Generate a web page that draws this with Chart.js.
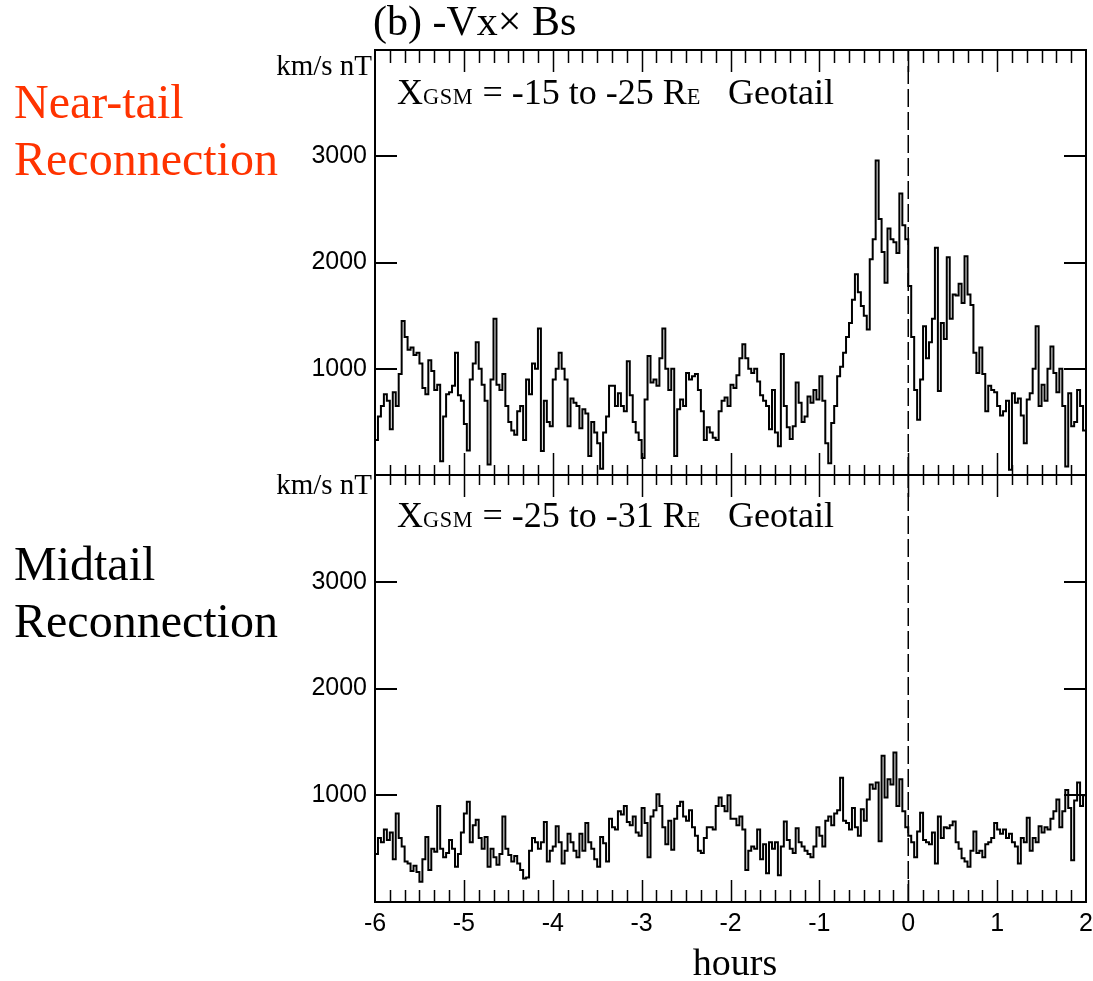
<!DOCTYPE html>
<html><head><meta charset="utf-8">
<script src="https://cdn.jsdelivr.net/npm/chart.js@4"></script>
<style>
html,body{margin:0;padding:0;background:#fff;}
#wrap{position:relative;width:1093px;height:981px;overflow:hidden;background:#fff;}
canvas{position:absolute;left:0;top:0;}
.t{position:absolute;white-space:nowrap;line-height:1;font-family:"Liberation Serif","Times New Roman",serif;color:#000;}
.sc{font-size:0.62em;letter-spacing:0.03em;}
</style></head><body>
<div id="wrap">
<canvas id="c1" width="1093" height="981"></canvas>
<canvas id="c2" width="1093" height="981"></canvas>
<div class="t" id="title">(b) -Vx× Bs</div>
<div class="t" id="u1">km/s nT</div>
<div class="t" id="u2">km/s nT</div>
<div class="t" id="g1">X<span class="sc">GSM</span> = -15 to -25 R<span class="sc">E</span>&nbsp;&nbsp; Geotail</div>
<div class="t" id="g2">X<span class="sc">GSM</span> = -25 to -31 R<span class="sc">E</span>&nbsp;&nbsp; Geotail</div>
<div class="t" id="n1" style="color:#ff3300">Near-tail</div>
<div class="t" id="n2" style="color:#ff3300">Reconnection</div>
<div class="t" id="m1">Midtail</div>
<div class="t" id="m2">Reconnection</div>
<div class="t" id="xl">hours</div>
</div>
<script>
// ---- data (2-minute samples from -6 h to +2 h) ----
const startHour = -6;
const endHour = 2;
const samplesPerHour = 30;
const xTickLabels = ['-6','-5','-4','-3','-2','-1','0','1','2'];
const yTickValues = [1000, 2000, 3000];

const nearTailValues = [
330,550,650,760,700,430,780,650,950,1450,1300,1180,1200,1130,1150,1050,820,760,1080,980,
800,850,130,550,760,780,840,1150,750,700,480,230,900,1050,1250,1000,850,700,100,900,
1470,850,800,950,650,500,420,380,600,650,330,900,760,1050,1000,1380,225,700,500,460,
900,1000,1150,1000,900,460,720,680,650,440,620,580,180,500,400,300,60,400,550,840,
840,650,770,650,600,1070,750,500,400,330,160,710,1120,870,900,840,1100,1380,1000,800,
1000,180,620,710,650,960,900,930,950,800,600,330,450,400,350,330,600,700,730,650,
850,820,940,1100,1230,1100,1000,960,1000,880,750,700,650,430,800,400,270,1140,650,450,
340,460,870,680,500,550,740,680,800,710,930,700,300,110,490,650,930,1020,1150,1300,
1430,1650,1890,1720,1590,1500,1370,2030,2220,2960,2410,2100,1810,2320,2220,2190,2090,2650,2350,2220,
1780,1300,800,520,900,1400,1100,1250,1470,2140,790,1430,1280,2050,1470,1700,1690,1800,1620,2060,
1700,1600,1150,960,1200,950,600,840,800,780,650,560,600,700,50,770,680,720,560,300,
710,770,1000,1400,650,850,700,1000,1210,960,780,1000,650,80,770,460,500,800,650,420,
180];

const midTailValues = [
450,600,560,680,580,650,400,830,600,520,380,360,290,340,280,190,400,610,300,500,
470,900,500,420,460,580,500,330,450,650,830,940,560,720,770,600,500,610,330,500,
420,350,450,800,500,440,380,430,360,300,220,230,480,600,560,500,560,750,380,480,
520,710,560,360,480,640,560,480,420,640,480,740,560,500,400,330,610,550,380,780,
700,680,850,820,900,750,720,800,650,620,880,740,420,800,860,1010,900,700,540,760,
490,780,900,940,800,760,860,700,620,480,460,600,700,700,680,900,980,900,850,1000,
780,780,720,800,680,300,480,520,500,680,400,540,270,560,500,560,250,520,755,580,
500,460,690,560,520,480,450,420,520,700,620,520,760,800,720,830,860,1165,760,740,
680,880,700,620,870,760,960,1100,1060,1120,570,1370,980,1150,1100,1400,900,1150,850,700,
620,560,420,660,835,580,560,540,650,360,800,600,700,690,720,755,560,500,410,380,
330,480,660,460,480,420,540,560,600,740,680,640,680,600,640,560,520,360,600,560,
790,480,600,560,710,650,700,680,780,850,960,700,850,1050,880,390,950,1120,900,1000,
800];

const hours = nearTailValues.map((_, i) => startHour + i / samplesPerHour);

// ---- layout constants ----
const W = 1093, H = 981;
const plotLeft = 375, plotRight = 1086;
const topPanelTop = 50, midLine = 475, bottomPanelBottom = 902;
const tickFont = {family: '"Liberation Sans",Arial,sans-serif', size: 25};

const framePlugin = {
  id: 'frame',
  afterDatasetsDraw(chart, args, opts) {
    const {ctx, chartArea: a, scales} = chart;
    const xs = scales.x, ys = scales.y;
    ctx.save();
    ctx.strokeStyle = '#000';
    ctx.lineWidth = 2;
    ctx.strokeRect(a.left, a.top, a.right - a.left, a.bottom - a.top);
    ctx.lineWidth = 1.5;
    ctx.beginPath();
    const nMinor = (endHour - startHour) * 6;
    for (let m = 1; m < nMinor; m++) {
      const v = startHour + m / 6;
      const px = Math.round(xs.getPixelForValue(v)) + 0.5;
      const major = m % 6 === 0;
      const tl = major ? opts.topMajor : opts.topMinor;
      const bl = major ? opts.botMajor : opts.botMinor;
      ctx.moveTo(px, a.top); ctx.lineTo(px, a.top + tl);
      ctx.moveTo(px, a.bottom); ctx.lineTo(px, a.bottom - bl);
    }
    ctx.stroke();
    ctx.lineWidth = 2;
    ctx.beginPath();
    yTickValues.forEach(v => {
      const py = Math.round(ys.getPixelForValue(v));
      ctx.moveTo(a.left, py); ctx.lineTo(a.left + 22, py);
      ctx.moveTo(a.right, py); ctx.lineTo(a.right - 22, py);
    });
    ctx.stroke();
    ctx.restore();
  }
};

function makeChart(id, values, showX, padTop, padBottom, tickCfg) {
  return new Chart(document.getElementById(id), {
    type: 'line',
    data: {
      datasets: [
        {data: hours.map((h, i) => ({x: h, y: values[i]})), borderColor: '#000', borderWidth: 2,
         pointRadius: 0, stepped: true, fill: false},
        {data: [{x: 0, y: 0}, {x: 0, y: 4000}], borderColor: '#000', borderWidth: 1.5,
         borderDash: [18, 5], pointRadius: 0, fill: false}
      ]
    },
    options: {
      responsive: false, animation: false, devicePixelRatio: 1,
      layout: {padding: {left: 0, right: W - plotRight, top: padTop, bottom: padBottom}},
      plugins: {legend: {display: false}, tooltip: {enabled: false}, frame: tickCfg},
      scales: {
        x: {type: 'linear', min: startHour, max: endHour, display: showX,
            grid: {display: false, drawTicks: false}, border: {display: false},
            ticks: {stepSize: 1, padding: 7, color: '#000', font: tickFont, maxRotation: 0, autoSkip: false,
                    callback: (v) => { const i = Math.round(v - startHour); return xTickLabels[i]; }},
            afterFit: (s) => {
              s.paddingLeft = 0; s.paddingRight = 0;
              if (showX) s.height = H - bottomPanelBottom;
            }},
        y: {min: 0, max: 4000,
            grid: {display: false, drawTicks: false}, border: {display: false},
            ticks: {stepSize: 1000, padding: 8, color: '#000', font: tickFont,
                    callback: (v) => yTickValues.includes(v) ? String(v) : null},
            afterFit: (s) => { s.width = plotLeft; s.paddingTop = 0; s.paddingBottom = 0; }}
      }
    },
    plugins: [framePlugin]
  });
}

makeChart('c1', nearTailValues, false, topPanelTop, H - midLine,
  {topMajor: 22, topMinor: 13, botMajor: 22, botMinor: 10});
makeChart('c2', midTailValues, true, midLine, 0,
  {topMajor: 22, topMinor: 10, botMajor: 22, botMinor: 12});

// ---- text placement (baseline-based) ----
function place(id, x, base, size, align) {
  const el = document.getElementById(id);
  el.style.fontSize = size + 'px';
  el.style.top = (base - 0.8375 * size) + 'px';
  el.style.left = x + 'px';
  if (align === 'right') el.style.transform = 'translateX(-100%)';
  if (align === 'center') el.style.transform = 'translateX(-50%)';
}
place('title', 373, 35, 42, 'left');
place('u1', 372, 75, 29, 'right');
place('u2', 372, 494, 29, 'right');
place('g1', 397, 104, 36, 'left');
place('g2', 397, 527, 36, 'left');
place('n1', 14, 118, 48, 'left');
place('n2', 14, 175, 48, 'left');
place('m1', 14, 580, 48, 'left');
place('m2', 14, 637, 48, 'left');
place('xl', 735, 975, 38, 'center');
</script>
</body></html>
